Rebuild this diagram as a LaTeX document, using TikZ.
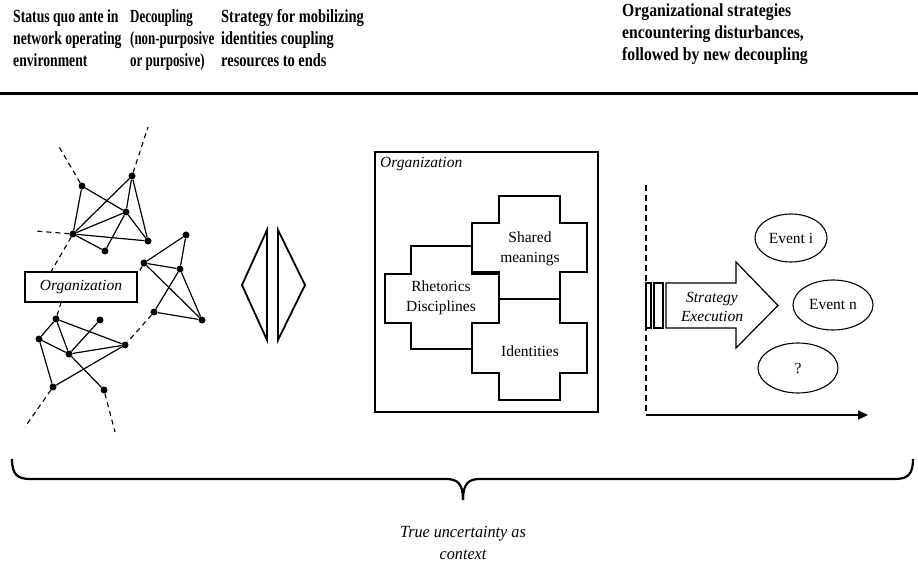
\documentclass[tikz,border=0pt]{standalone}
\usepackage{fontspec}
\setmainfont{Liberation Serif}
\newfontfamily\hdA[FakeStretch=0.74]{Liberation Serif}
\newfontfamily\hdB[FakeStretch=0.70]{Liberation Serif}
\newfontfamily\hdC[FakeStretch=0.78]{Liberation Serif}
\newfontfamily\hdD[FakeStretch=0.85]{Liberation Serif}
\newfontfamily\bodyit[FakeStretch=0.95]{Liberation Serif}
\usetikzlibrary{arrows.meta,shapes.geometric,calc}
\tikzset{
  dot/.style={circle,fill=black,inner sep=0pt,minimum size=7pt},
  netedge/.style={line width=1.2pt},
  dashedge/.style={line width=1.1pt,dashed,dash pattern=on 5pt off 4pt},
  titletext/.style={anchor=north west,inner sep=0pt,align=left},
  hsize/.style={font=#1\fontsize{18.5}{22}\selectfont\bfseries},
  bodytext/.style={inner sep=0pt,align=center,font=\fontsize{15.5}{20}\selectfont},
  ittext/.style={inner sep=0pt,align=center,font=\fontsize{15.5}{19}\selectfont\itshape},
  crossbox/.style={draw,fill=white,line width=1.5pt},
  eventbox/.style={draw,ellipse,line width=1.1pt,inner sep=0pt,font=\fontsize{15.5}{19}\selectfont},
}
\begin{document}
\begin{tikzpicture}[x=1pt,y=-1pt]
\useasboundingbox (0,0) rectangle (918,569);

% titles
\node[titletext,hsize=\hdA] (t1) at (13,9) {Status quo ante in\\network operating\\environment};
\node[titletext,hsize=\hdB] (t2) at (130,9) {Decoupling\\(non-purposive\\or purposive)};
\node[titletext,hsize=\hdC] (t3) at (221,9) {Strategy for mobilizing\\identities coupling\\resources to ends};
\node[titletext,hsize=\hdD] (t4) at (622,3) {Organizational strategies\\encountering disturbances,\\followed by new decoupling};
\draw[line width=3pt] (0,94) -- (918,94);

% network nodes
\node[dot] (a) at (82,186) {};
\node[dot] (b) at (132,176) {};
\node[dot] (c) at (126,212) {};
\node[dot] (d) at (73,234) {};
\node[dot] (e) at (148,241) {};
\node[dot] (f) at (105,251) {};
\node[dot] (h) at (186,235) {};
\node[dot] (i) at (144,263) {};
\node[dot] (j) at (180,269) {};
\node[dot] (k) at (154,312) {};
\node[dot] (l) at (202,320) {};
\node[dot] (m) at (56,319) {};
\node[dot] (n) at (100,320) {};
\node[dot] (o) at (39,339) {};
\node[dot] (p) at (69,354) {};
\node[dot] (q) at (125,345) {};
\node[dot] (r) at (53,387) {};
\node[dot] (s) at (104,390) {};

\foreach \u/\v in {a/d,a/c,b/d,b/c,b/e,c/d,c/f,c/e,d/e,d/f,
                   h/i,h/j,i/j,i/l,j/k,j/l,k/l,
                   m/o,m/p,m/q,n/p,o/p,o/r,p/q,p/s,q/r}
  \draw[netedge] (\u) -- (\v);

\coordinate (da) at (58,145);
\coordinate (db) at (148,127);
\coordinate (dd1) at (35,231);
\coordinate (dd2) at (45,282);
\coordinate (dm) at (63,296);
\coordinate (di) at (130,288);
\coordinate (dr) at (25,427);
\coordinate (ds) at (115,432);
\foreach \u/\v in {a/da,b/db,d/dd1,d/dd2,m/dm,i/di,r/dr,s/ds,k/q}
  \draw[dashedge] (\u) -- (\v);

\node[draw,fill=white,line width=1.8pt,minimum width=112pt,minimum height=30pt,inner sep=0pt,
      font=\fontsize{15.5}{19}\selectfont\itshape] (org1) at (81,287) {Organization};

% decoupling
\draw[line width=1.8pt,line join=miter] (267,230) -- (242,285) -- (267,340) -- cycle;
\draw[line width=1.8pt,line join=miter] (278,230) -- (305,285) -- (278,340) -- cycle;

% organization box
\node[draw,line width=2.5pt,minimum width=223pt,minimum height=260pt,inner sep=0pt] (orgbox) at (486.5,282) {};
\node[anchor=north west,inner sep=0pt,font=\fontsize{15.5}{19}\selectfont\itshape] (orglab) at (380,157) {Organization};

\path[crossbox] (499,196) -- (560,196) -- (560,223) -- (587,223) -- (587,272) -- (560,272) -- (560,299)
  -- (499,299) -- (499,272) -- (472,272) -- (472,223) -- (499,223) -- cycle;
\path[crossbox] (499,299) -- (560,299) -- (560,323) -- (587,323) -- (587,373) -- (560,373) -- (560,400)
  -- (499,400) -- (499,373) -- (472,373) -- (472,323) -- (499,323) -- cycle;
\path[crossbox] (411,246) -- (472,246) -- (472,274) -- (499,274) -- (499,323) -- (472,323) -- (472,349)
  -- (411,349) -- (411,323) -- (385,323) -- (385,274) -- (411,274) -- cycle;
\draw[line width=2.2pt] (499,299) -- (560,299);
\node[bodytext] (shared) at (530,249) {Shared\\meanings};
\node[bodytext] (rhet) at (441,298) {Rhetorics\\Disciplines};
\node[bodytext] (ident) at (530,351) {Identities};

% right part
\coordinate (vtop) at (646,185);
\coordinate (origin) at (646,415);
\coordinate (xend) at (868,415);
\draw[line width=1.2pt,dash pattern=on 6pt off 4pt] (vtop) -- (origin);
\draw[line width=2.2pt,-{Triangle[length=10pt,width=9pt]}] (origin) -- (xend);

\draw[line width=1.2pt] (646,283) rectangle (651,328);
\draw[line width=1.2pt] (654,283) rectangle (663,328);
\draw[line width=1.2pt,line join=miter,fill=white] (666,283) -- (736,283) -- (736,262) -- (778,305.5)
  -- (736,348) -- (736,328) -- (666,328) -- cycle;
\node[ittext] (strat) at (712,307) {Strategy\\Execution};

\node[eventbox,minimum width=72pt,minimum height=48pt] (evi) at (791,238) {Event i};
\node[eventbox,minimum width=80pt,minimum height=50pt] (evn) at (833,305) {Event n};
\node[eventbox,minimum width=80pt,minimum height=50pt] (evq) at (798,368) {?};

% brace
\coordinate (bl) at (12,459);
\coordinate (br) at (913,459);
\coordinate (tip) at (463,500);
\draw[line width=2.2pt] (bl) .. controls (12,474) and (17,479) .. (30,479) -- (446,479)
  .. controls (457,479) and (463,483) .. (tip);
\draw[line width=2.2pt] (br) .. controls (913,474) and (908,479) .. (895,479) -- (480,479)
  .. controls (469,479) and (463,483) .. (tip);
\node[inner sep=0pt,align=center,font=\bodyit\fontsize{17}{22}\selectfont\itshape] (unc) at (463,543) {True uncertainty as\\context};
\end{tikzpicture}
\end{document}
